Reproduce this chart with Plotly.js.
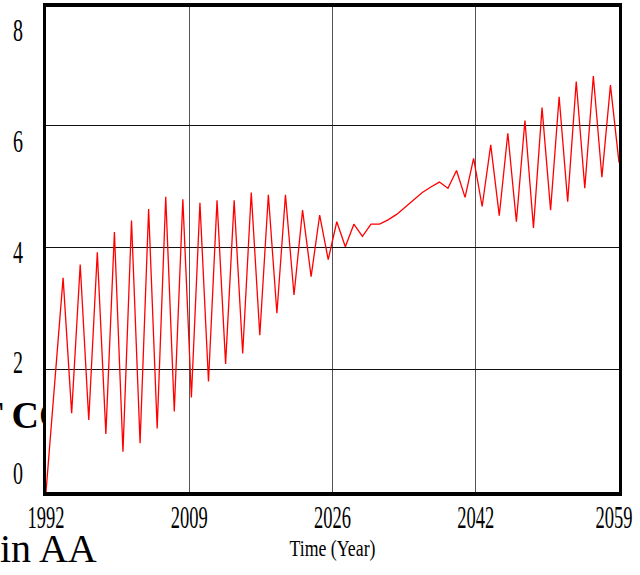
<!DOCTYPE html>
<html>
<head>
<meta charset="utf-8">
<script src="https://cdn.plot.ly/plotly-3.0.1.min.js"></script>
<style>
  html, body { margin: 0; padding: 0; background: #ffffff; }
  #chart { width: 640px; height: 575px; }
</style>
</head>
<body>
<div id="chart"></div>
<script>
// ---- Data ----
var years = [];
for (var yr = 1992; yr <= 2059; yr++) years.push(yr);

var values = [
  0.00, 1.76, 3.51, 1.29, 3.73, 1.18, 3.93, 0.95, 4.26, 0.66,   // 1992-2001
  4.45, 0.80, 4.64, 1.04, 4.84, 1.32, 4.80, 1.55, 4.74, 1.81,   // 2002-2011
  4.78, 2.10, 4.78, 2.27, 4.91, 2.57, 4.87, 2.93, 4.87, 3.23,   // 2012-2021
  4.62, 3.53, 4.54, 3.81, 4.43, 4.02, 4.39, 4.19, 4.39, 4.39,   // 2022-2031
  4.46, 4.55, 4.67, 4.80, 4.91, 5.00, 5.08, 4.98, 5.27, 4.83,   // 2032-2041
  5.47, 4.68, 5.69, 4.53, 5.88, 4.43, 6.09, 4.33, 6.30, 4.62,   // 2042-2051
  6.48, 4.76, 6.73, 4.98, 6.82, 5.16, 6.67, 5.40                // 2052-2059
];

var xTickVals = [1992, 2008.75, 2025.5, 2042.25, 2059];
var xTickText = ['1992', '2009', '2026', '2042', '2059'];
var yGridVals = [0, 2, 4, 6, 8];
var yTickVals = [0, 2, 4, 6, 8];
var yTickText = ['0', '2', '4', '6', '8'];

var xTitle = 'Time (Year)';
var strayLeft = 'T CO';
var strayBottom = 'in AA';

// ---- Layout geometry ----
var W = 640, H = 575;
var mL = 46, mR = 21, mT = 7, mB = 83;
var plotW = W - mL - mR, plotH = H - mT - mB;
function px2paperX(px) { return (px - mL) / plotW; }
function px2paperY(py) { return (H - mB - py) / plotH; }

var serif = 'Liberation Serif, Times New Roman, serif';

var data = [
  {
    x: years, y: values, type: 'scatter', mode: 'lines',
    line: { color: '#ff0000', width: 1.3 },
    hoverinfo: 'skip', showlegend: false
  },
  {
    // carries the (offset) tick labels axis of the original picture
    x: [years[0]], y: [yTickVals[0]], yaxis: 'y2', type: 'scatter', mode: 'markers',
    marker: { opacity: 0, size: 1 }, hoverinfo: 'skip', showlegend: false
  }
];

var layout = {
  width: W, height: H,
  margin: { l: mL, r: mR, t: mT, b: mB, pad: 0 },
  paper_bgcolor: '#ffffff', plot_bgcolor: '#ffffff',
  showlegend: false,
  xaxis: {
    range: [1992, 2059],
    tickmode: 'array', tickvals: xTickVals, ticktext: xTickText,
    ticks: '', showgrid: true, gridcolor: '#555555', gridwidth: 1,
    zeroline: false, showline: true, linecolor: '#000000', linewidth: 4, mirror: true,
    tickfont: { family: serif, size: 32, color: '#000000' },
    ticklabelstandoff: -6, ticklabeloverflow: 'allow',
    title: { text: xTitle, font: { family: serif, size: 24, color: '#000000' }, standoff: 6 }
  },
  yaxis: {
    range: [0, 7.95],
    tickmode: 'array', tickvals: yGridVals,
    showticklabels: false, ticks: '',
    showgrid: true, gridcolor: '#111111', gridwidth: 1,
    zeroline: false, showline: true, linecolor: '#000000', linewidth: 3, mirror: true
  },
  yaxis2: {
    overlaying: 'y', side: 'left',
    range: [-0.343, 8.415],
    tickmode: 'array', tickvals: yTickVals, ticktext: yTickText,
    showgrid: false, zeroline: false, showline: false, ticks: '',
    tickfont: { family: serif, size: 32, color: '#000000' },
    ticklabelstandoff: 22, ticklabeloverflow: 'allow'
  },
  annotations: [
    {
      text: strayLeft, xref: 'paper', yref: 'paper',
      x: px2paperX(0), y: px2paperY(415), xanchor: 'left', yanchor: 'middle',
      width: 46, align: 'center', showarrow: false, borderpad: 0, borderwidth: 0,
      font: { family: serif, size: 38, color: '#000000', weight: 'bold' }
    },
    {
      text: strayBottom, xref: 'paper', yref: 'paper',
      x: px2paperX(0), y: px2paperY(548), xanchor: 'left', yanchor: 'middle',
      showarrow: false, borderpad: 0, borderwidth: 0,
      font: { family: serif, size: 40, color: '#000000' }
    }
  ]
};

function squeeze(sel, len) {
  document.querySelectorAll(sel).forEach(function (t) {
    t.setAttribute('textLength', len);
    t.setAttribute('lengthAdjust', 'spacingAndGlyphs');
  });
}

Plotly.newPlot('chart', data, layout, { staticPlot: true, displayModeBar: false }).then(function () {
  squeeze('g.xtick text', 37);
  squeeze('g.y2tick text', 10);
  squeeze('g.g-xtitle text', 86);
  // the last year label sits a little inside the right edge in the original
  var xt = document.querySelectorAll('g.xtick text');
  if (xt.length) xt[xt.length - 1].setAttribute('dx', -5);
});
</script>
</body>
</html>
